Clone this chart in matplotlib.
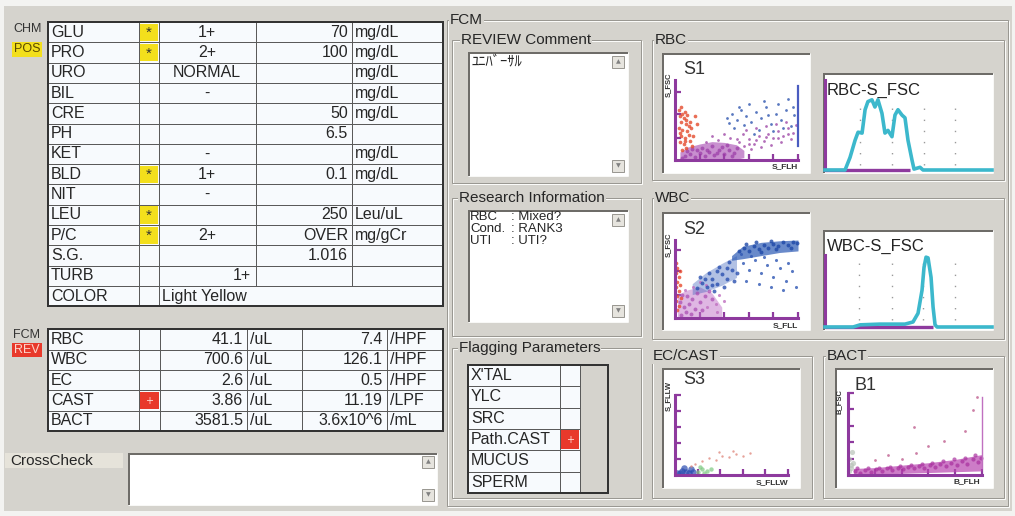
import matplotlib
matplotlib.use("Agg")
import matplotlib.pyplot as plt
from matplotlib.patches import Rectangle
from matplotlib import font_manager as fm

# ---------------- data ----------------
chem_names = ['GLU', 'PRO', 'URO', 'BIL', 'CRE', 'PH', 'KET', 'BLD', 'NIT', 'LEU', 'P/C', 'S.G.', 'TURB', 'COLOR']
chem_flags = [1, 1, 0, 0, 0, 0, 0, 1, 0, 1, 1, 0, 0, 0]
chem_qual = ['1+', '2+', 'NORMAL', '-', '', '', '-', '1+', '-', '', '2+', '', '1+', 'Light Yellow']
chem_quant = ['70', '100', '', '', '50', '6.5', '', '0.1', '', '250', 'OVER', '1.016', '', '']
chem_units = ['mg/dL', 'mg/dL', 'mg/dL', 'mg/dL', 'mg/dL', '', 'mg/dL', 'mg/dL', '', 'Leu/uL', 'mg/gCr', '', '', '']

fcm_names = ['RBC', 'WBC', 'EC', 'CAST', 'BACT']
fcm_flags = [0, 0, 0, 1, 0]
fcm_val = ['41.1', '700.6', '2.6', '3.86', '3581.5']
fcm_unit = ['/uL', '/uL', '/uL', '/uL', '/uL']
fcm_val2 = ['7.4', '126.1', '0.5', '11.19', '3.6x10^6']
fcm_unit2 = ['/HPF', '/HPF', '/HPF', '/LPF', '/mL']

flag_params = ["X'TAL", 'YLC', 'SRC', 'Path.CAST', 'MUCUS', 'SPERM']
flag_param_flags = [0, 0, 0, 1, 0, 0]

review_comment = 'ﾕﾆﾊﾞｰｻﾙ'
research_keys = ['RBC', 'Cond.', 'UTI']
research_vals = [': Mixed?', ': RANK3', ': UTI?']

# histogram curves (channel 0-100, relative count 0-100)
rbc_fsc_x = [0, 12, 15, 18, 19.8, 22.2, 24, 25.7, 28.1, 29.9, 31.7, 34.1, 35.9, 37.7, 40.1, 41.9,
             43.7, 46.1, 47.9, 49.7, 52.1, 53.3, 56.9, 58.7, 100]
rbc_fsc_y = [0, 0, 14, 33, 42, 41, 67, 76, 78, 70, 78, 63, 41, 44, 37, 61,
             67, 61, 58, 33, 11, 1, 3, 0, 0]
wbc_fsc_x = [0, 16.8, 21, 32.9, 47.9, 52.7, 55.7, 58.1, 59.3, 60.5, 61.7, 63.5, 64.7, 65.9, 67.1, 100]
wbc_fsc_y = [0, 0, 3, 4, 4, 7, 19, 51, 83, 97, 96, 69, 28, 3, 0, 0]

# scatter clouds (normalised channel units 0-1)
s1_red = [(0.03, 0.62), (0.05, 0.66), (0.08, 0.60), (0.04, 0.55), (0.07, 0.52), (0.10, 0.56), (0.05, 0.47),
          (0.09, 0.45), (0.12, 0.48), (0.03, 0.40), (0.06, 0.38), (0.10, 0.36), (0.13, 0.40), (0.05, 0.30),
          (0.08, 0.28), (0.11, 0.31), (0.04, 0.22), (0.07, 0.20), (0.12, 0.24), (0.09, 0.15), (0.14, 0.18),
          (0.06, 0.12), (0.15, 0.30), (0.18, 0.45), (0.16, 0.55), (0.06, 0.58), (0.09, 0.50), (0.04, 0.34),
          (0.11, 0.42), (0.08, 0.24)]
s1_blob_x = [0.04, 0.10, 0.20, 0.30, 0.40, 0.50, 0.56]
s1_blob_lo = [0.0, 0.0, 0.0, 0.0, 0.0, 0.01, 0.03]
s1_blob_hi = [0.10, 0.16, 0.20, 0.23, 0.22, 0.19, 0.12]
s1_purple_dense = [(0.08, 0.05), (0.12, 0.08), (0.16, 0.04), (0.20, 0.09), (0.24, 0.05), (0.28, 0.10), (0.32, 0.06),
                   (0.36, 0.12), (0.40, 0.07), (0.44, 0.13), (0.48, 0.09), (0.14, 0.14), (0.22, 0.15), (0.30, 0.17),
                   (0.10, 0.11), (0.18, 0.12), (0.26, 0.13), (0.34, 0.09), (0.38, 0.16), (0.42, 0.19), (0.50, 0.15),
                   (0.06, 0.03), (0.46, 0.05)]
s1_purple = [(0.52, 0.22), (0.56, 0.18), (0.60, 0.26), (0.64, 0.20), (0.68, 0.30), (0.72, 0.24), (0.76, 0.33),
             (0.80, 0.27), (0.84, 0.36), (0.88, 0.30), (0.92, 0.40), (0.96, 0.34), (0.55, 0.32), (0.62, 0.14),
             (0.70, 0.16), (0.78, 0.19), (0.86, 0.22), (0.94, 0.26), (0.45, 0.28), (0.35, 0.25), (0.40, 0.33),
             (0.66, 0.40), (0.74, 0.42), (0.82, 0.45), (0.58, 0.38), (0.90, 0.48), (0.98, 0.44), (0.25, 0.22),
             (0.30, 0.30), (0.50, 0.26), (0.60, 0.20), (0.66, 0.25), (0.74, 0.29), (0.84, 0.28), (0.92, 0.33)]
s1_blue = [(0.42, 0.52), (0.46, 0.58), (0.50, 0.50), (0.54, 0.62), (0.58, 0.55), (0.62, 0.48), (0.66, 0.60),
           (0.70, 0.52), (0.74, 0.66), (0.78, 0.45), (0.82, 0.58), (0.86, 0.50), (0.90, 0.62), (0.94, 0.42),
           (0.97, 0.56), (0.60, 0.70), (0.72, 0.74), (0.84, 0.70), (0.92, 0.76), (0.48, 0.40), (0.56, 0.44),
           (0.68, 0.38), (0.80, 0.36), (0.88, 0.40), (0.52, 0.66), (0.64, 0.32), (0.76, 0.56), (0.44, 0.46),
           (0.96, 0.66)]
s1_edge_y = [0.18, 0.92]

s2_red = [(0.01, 0.70), (0.02, 0.64), (0.01, 0.58), (0.03, 0.52), (0.02, 0.46), (0.01, 0.40), (0.03, 0.34),
          (0.02, 0.28), (0.01, 0.22), (0.03, 0.16), (0.04, 0.60), (0.04, 0.42), (0.02, 0.10), (0.05, 0.26)]
s2_blob_x = [0.02, 0.10, 0.20, 0.30, 0.38]
s2_blob_lo = [0.0, 0.0, 0.0, 0.0, 0.0]
s2_blob_hi = [0.30, 0.36, 0.40, 0.32, 0.14]
s2_purple_dense = [(0.05, 0.04), (0.09, 0.08), (0.13, 0.05), (0.07, 0.14), (0.11, 0.18), (0.16, 0.12), (0.20, 0.20),
                   (0.14, 0.25), (0.24, 0.28), (0.18, 0.32), (0.28, 0.35), (0.22, 0.10), (0.04, 0.20), (0.10, 0.28),
                   (0.30, 0.24), (0.06, 0.30)]
s2_pink = [(0.26, 0.14), (0.33, 0.18), (0.36, 0.30), (0.15, 0.40), (0.25, 0.42), (0.34, 0.08), (0.40, 0.22),
           (0.20, 0.46), (0.08, 0.36)]
s2_band_x = [0.14, 0.25, 0.38, 0.50]
s2_band_lo = [0.30, 0.34, 0.42, 0.52]
s2_band_hi = [0.44, 0.58, 0.70, 0.80]
s2_blue_low = [(0.18, 0.38), (0.22, 0.45), (0.26, 0.40), (0.30, 0.50), (0.34, 0.44), (0.38, 0.56), (0.42, 0.50),
               (0.46, 0.62), (0.50, 0.58), (0.28, 0.58), (0.36, 0.66), (0.44, 0.72), (0.20, 0.52), (0.40, 0.40),
               (0.48, 0.48), (0.32, 0.34), (0.24, 0.50), (0.34, 0.60), (0.42, 0.64), (0.30, 0.42)]
s2_blue_mid = [(0.55, 0.70), (0.60, 0.62), (0.65, 0.74), (0.70, 0.58), (0.75, 0.68), (0.80, 0.52), (0.85, 0.64),
               (0.90, 0.48), (0.95, 0.60), (0.58, 0.48), (0.68, 0.44), (0.78, 0.40), (0.88, 0.36), (0.62, 0.80),
               (0.72, 0.78), (0.82, 0.74), (0.92, 0.70), (0.54, 0.82), (0.98, 0.40)]
s2_top_x = [0.46, 0.55, 0.70, 0.85, 1.0]
s2_top_lo = [0.74, 0.76, 0.80, 0.84, 0.86]
s2_top_hi = [0.80, 0.92, 0.97, 0.99, 1.0]
s2_blue_top = [(0.52, 0.86), (0.56, 0.90), (0.60, 0.86), (0.64, 0.92), (0.68, 0.88), (0.72, 0.94), (0.76, 0.90),
               (0.80, 0.95), (0.84, 0.92), (0.88, 0.97), (0.92, 0.94), (0.96, 0.98), (0.99, 0.96), (0.58, 0.95),
               (0.70, 0.84), (0.82, 0.88), (0.94, 0.90), (0.66, 0.97), (0.78, 0.99)]

s3_blue = [(0.02, 0.03), (0.06, 0.05), (0.10, 0.04), (0.14, 0.07), (0.08, 0.09), (0.04, 0.02), (0.12, 0.02),
           (0.16, 0.04)]
s3_green = [(0.20, 0.04), (0.24, 0.07), (0.28, 0.05), (0.32, 0.08), (0.26, 0.02), (0.22, 0.10)]
s3_pink = [(0.18, 0.14), (0.24, 0.18), (0.30, 0.21), (0.36, 0.19), (0.42, 0.24), (0.48, 0.22), (0.54, 0.26),
           (0.60, 0.24), (0.66, 0.27), (0.39, 0.29), (0.51, 0.30), (0.14, 0.11)]

b1_band_x = [0.04, 0.2, 0.4, 0.6, 0.8, 1.0]
b1_band_lo = [0.0, 0.01, 0.02, 0.03, 0.04, 0.05]
b1_band_hi = [0.08, 0.09, 0.12, 0.15, 0.19, 0.25]
b1_mag = [(0.05, 0.05), (0.09, 0.03), (0.13, 0.06), (0.17, 0.04), (0.21, 0.07), (0.25, 0.05), (0.29, 0.08),
          (0.33, 0.06), (0.37, 0.09), (0.41, 0.07), (0.45, 0.10), (0.49, 0.08), (0.53, 0.11), (0.57, 0.09),
          (0.61, 0.12), (0.65, 0.10), (0.69, 0.14), (0.73, 0.11), (0.77, 0.15), (0.81, 0.12), (0.85, 0.17),
          (0.89, 0.14), (0.93, 0.19), (0.97, 0.16), (0.99, 0.21), (0.95, 0.24), (0.87, 0.21), (0.79, 0.19),
          (0.71, 0.17), (0.63, 0.15), (0.55, 0.13), (0.47, 0.12), (0.39, 0.11), (0.31, 0.10), (0.23, 0.09),
          (0.15, 0.08), (0.07, 0.09)]
b1_sparse = [(0.49, 0.59), (0.87, 0.54), (0.72, 0.41), (0.60, 0.35), (0.51, 0.27), (0.93, 0.79), (0.96, 0.95),
             (0.30, 0.25), (0.20, 0.18), (0.40, 0.20)]
b1_gray = [(0.01, 0.05), (0.02, 0.12), (0.01, 0.20), (0.03, 0.28), (0.02, 0.08), (0.04, 0.15)]
b1_edge_y = [0.08, 0.95]

# ---------------- setup ----------------
def pick_font(cands):
    for c in cands:
        try:
            fm.findfont(fm.FontProperties(family=c), fallback_to_default=False)
            return c
        except Exception:
            pass
    return 'DejaVu Sans'


UIF = pick_font(['Liberation Sans Narrow', 'DejaVu Sans Condensed', 'Liberation Sans', 'DejaVu Sans'])

W, H = 1015, 516
BG = '#d5d3cd'
PURPLE = '#8e3a9e'
CYAN = '#3cb8cc'
YEL = '#f3df1c'
RED = '#e8392b'
TXT = '#262626'
PX = 0.72

fig = plt.figure(figsize=(W / 100, H / 100), dpi=100, facecolor='#f3f3f1')
bg = fig.add_axes([0, 0, 1, 1])
bg.set_xlim(0, W)
bg.set_ylim(H, 0)
bg.axis('off')


def rect(x0, y0, x1, y1, fc='none', ec='none', lw=1, z=1):
    bg.add_patch(Rectangle((x0, y0), x1 - x0, y1 - y0, facecolor=fc, edgecolor=ec,
                           linewidth=lw * PX, zorder=z))


def hline(x0, x1, y, c, lw=1, z=2):
    bg.plot([x0, x1], [y, y], color=c, lw=lw * PX, zorder=z, solid_capstyle='butt')


def vline(x, y0, y1, c, lw=1, z=2):
    bg.plot([x, x], [y0, y1], color=c, lw=lw * PX, zorder=z, solid_capstyle='butt')


def txt(x, y, s, size=11.5, ha='left', va='center', color=TXT, family=None, z=6, **kw):
    bg.text(x, y, s, fontsize=size, ha=ha, va=va, color=color,
            family=family or UIF, zorder=z, **kw)


def group(x0, y0, x1, y1, title=None, tx=None):
    rect(x0 + 1, y0 + 1, x1 + 1, y1 + 1, ec='#fbfbf9', lw=1, z=1.4)
    rect(x0, y0, x1, y1, ec='#9a9892', lw=1, z=1.5)
    if title:
        txt(tx, y0, title, size=11, bbox=dict(fc=BG, ec='none', pad=0.6), z=3)


def sunken(x0, y0, x1, y1, fc='white'):
    rect(x0, y0, x1, y1, fc=fc, z=2)
    hline(x0, x1, y0 + 1, '#6e6c68', 2, z=3)
    vline(x0 + 1, y0, y1, '#6e6c68', 2, z=3)
    hline(x0, x1, y1, '#f8f8f6', 1, z=3)
    vline(x1, y0, y1, '#f8f8f6', 1, z=3)


def arrow_btn(x0, y0, up):
    rect(x0, y0, x0 + 12, y0 + 12, fc='#e6e4de', ec='#9a9892', lw=1, z=4)
    txt(x0 + 6, y0 + 6, '▲' if up else '▼', size=4.5, ha='center', color='#808080',
        family='DejaVu Sans', z=5)


# outer panel
rect(4, 6, 1012, 511, fc=BG, z=0.5)

# ---------------- left: CHM table ----------------
txt(13, 29, 'CHM', size=9, color='#333')
rect(12, 42, 42, 57, fc=YEL, z=2)
txt(14, 49.5, 'POS', size=9, color='#5a4800')

cx = [48, 139, 159, 256, 352, 443]
cy0, crh = 22, 20.3
n = len(chem_names)
rect(cx[0], cy0, cx[-1], cy0 + crh * n, fc='#f7fafd', z=2)
for i in range(1, n):
    hline(cx[0], cx[-1], cy0 + crh * i, '#5a5a5a', 1, z=3)
for j, xc in enumerate(cx[1:-1]):
    yb = cy0 + crh * n if j < 2 else cy0 + crh * (n - 1)
    vline(xc, cy0, yb, '#5a5a5a', 1, z=3)
rect(cx[0], cy0, cx[-1], cy0 + crh * n, ec='#333', lw=2, z=4)
for i in range(n):
    yc = cy0 + crh * (i + 0.5)
    txt(51, yc, chem_names[i])
    if chem_flags[i]:
        rect(cx[1] + 1, cy0 + crh * i + 1.5, cx[2] - 1, cy0 + crh * (i + 1) - 1.5, fc=YEL, z=3.5)
        txt(149, yc + 1, '*', size=11, ha='center', color='#333')
    q = chem_qual[i]
    if chem_names[i] == 'COLOR':
        txt(162, yc, q)
    elif chem_names[i] == 'TURB':
        txt(251, yc, q, ha='right')
    elif q:
        txt(207, yc, q, ha='center')
    if chem_quant[i]:
        txt(348, yc, chem_quant[i], ha='right')
    if chem_units[i]:
        txt(355, yc, chem_units[i])

# ---------------- left: FCM table ----------------
txt(13, 335, 'FCM', size=9, color='#333')
rect(12, 343, 42, 357, fc=RED, z=2)
txt(14, 350, 'REV', size=9, color='#ffd6cc')

fx = [48, 139, 160, 247, 302, 387, 443]
fy0, frh = 329.3, 20.35
m = len(fcm_names)
rect(fx[0], fy0, fx[-1], fy0 + frh * m, fc='#f7fafd', z=2)
for i in range(1, m):
    hline(fx[0], fx[-1], fy0 + frh * i, '#5a5a5a', 1, z=3)
for xc in fx[1:-1]:
    vline(xc, fy0, fy0 + frh * m, '#5a5a5a', 1, z=3)
rect(fx[0], fy0, fx[-1], fy0 + frh * m, ec='#333', lw=2, z=4)
for i in range(m):
    yc = fy0 + frh * (i + 0.5)
    txt(51, yc, fcm_names[i])
    if fcm_flags[i]:
        rect(fx[1] + 1, fy0 + frh * i + 1.5, fx[2] - 1, fy0 + frh * (i + 1) - 1.5, fc=RED, z=3.5)
        txt(149.5, yc, '+', size=7, ha='center', color='#ffe0d8', family='DejaVu Sans')
    txt(243, yc, fcm_val[i], ha='right')
    txt(250, yc, fcm_unit[i])
    txt(383, yc, fcm_val2[i], ha='right')
    txt(390, yc, fcm_unit2[i])

# CrossCheck
rect(5, 453, 123, 468, fc='#e6e3da', z=2)
txt(10, 461, 'CrossCheck', size=11)
sunken(128, 453, 437, 505)
arrow_btn(422, 456, True)
arrow_btn(422, 489, False)

# ---------------- middle column ----------------
group(447, 20, 1008, 506, 'FCM', 450)

group(452, 40, 641, 183, 'REVIEW Comment', 461)
sunken(468, 52, 628, 176)
arrow_btn(612, 56, True)
arrow_btn(612, 160, False)
txt(472, 62, review_comment, size=10.5, family=['Noto Sans CJK JP', 'DejaVu Sans'])

group(452, 198, 641, 336, 'Research Information', 459)
sunken(468, 210, 628, 322)
arrow_btn(612, 214, True)
arrow_btn(612, 305, False)
for i, (k, v) in enumerate(zip(research_keys, research_vals)):
    txt(470, 217 + 12 * i, k, size=9.5)
    txt(511, 217 + 12 * i, v, size=9.5)

group(452, 348, 641, 498, 'Flagging Parameters', 459)
px_ = [468, 560, 580, 608]
py0, prh = 365, 21.3
k = len(flag_params)
rect(px_[0], py0, px_[2], py0 + prh * k, fc='#f7fafd', z=2)
for i in range(1, k):
    hline(px_[0], px_[2], py0 + prh * i, '#5a5a5a', 1, z=3)
vline(px_[1], py0, py0 + prh * k, '#5a5a5a', 1, z=3)
vline(px_[2], py0, py0 + prh * k, '#5a5a5a', 1, z=3)
rect(px_[0], py0, px_[3], py0 + prh * k, ec='#333', lw=2, z=4)
for i in range(k):
    yc = py0 + prh * (i + 0.5)
    txt(471, yc, flag_params[i])
    if flag_param_flags[i]:
        rect(px_[1] + 1, py0 + prh * i + 1.5, px_[2] - 1, py0 + prh * (i + 1) - 1.5, fc=RED, z=3.5)
        txt(570, yc, '+', size=7, ha='center', color='#ffe0d8', family='DejaVu Sans')

# ---------------- right column ----------------
group(652, 40, 1004, 180, 'RBC', 655)
group(652, 198, 1004, 339, 'WBC', 655)
group(652, 356, 812, 498, 'EC/CAST', 653)
group(823, 356, 1004, 498, 'BACT', 827)

sunken(662, 53, 810, 173)
sunken(823, 73, 993, 173)
sunken(662, 212, 810, 330)
sunken(823, 230, 993, 330)
sunken(662, 368, 800, 488)
sunken(835, 368, 993, 488)


def scatter_axes(x0, y0, x1, y1, yt):
    ax = fig.add_axes([x0 / W, 1 - y1 / H, (x1 - x0) / W, (y1 - y0) / H])
    ax.set_xlim(0, 1)
    ax.set_ylim(0, 1)
    ax.patch.set_visible(False)
    for s in ['top', 'right']:
        ax.spines[s].set_visible(False)
    for s in ['left', 'bottom']:
        ax.spines[s].set_color(PURPLE)
        ax.spines[s].set_linewidth(2.2)
        ax.spines[s].set_zorder(5)
    ax.set_xticks([0.2, 0.4, 0.6, 0.8, 1.0])
    ax.set_yticks(yt)
    ax.tick_params(direction='in', length=4, width=1.6, color=PURPLE,
                   labelbottom=False, labelleft=False)
    return ax


def pts(ax, data, color, s=3, alpha=0.8):
    ax.scatter([p[0] for p in data], [p[1] for p in data], s=s, c=color, alpha=alpha,
               linewidths=0, clip_on=False, zorder=3)


def cloud(ax, xs, lo, hi, color, alpha):
    ax.fill_between(xs, lo, hi, color=color, alpha=alpha, lw=0, zorder=2)


def hist_axes(x0, y0, x1, y1, xs, ys, purple_end, dots_x, dot_lo, dot_hi):
    ax = fig.add_axes([x0 / W, 1 - y1 / H, (x1 - x0) / W, (y1 - y0) / H])
    ax.set_xlim(0, 100)
    ax.set_ylim(0, 100)
    ax.patch.set_visible(False)
    for s in ['top', 'right', 'bottom']:
        ax.spines[s].set_visible(False)
    ax.spines['left'].set_color(PURPLE)
    ax.spines['left'].set_linewidth(2.2)
    ax.set_xticks([])
    ax.set_yticks([])
    for dx in dots_x:
        ax.plot([dx, dx], [dot_lo, dot_hi], color='#9a9a9a', lw=1, ls=(0, (1, 7)), zorder=1)
    ax.plot([0, purple_end], [0, 0], color=PURPLE, lw=2.4, clip_on=False, zorder=2,
            solid_capstyle='butt')
    ax.plot(xs, ys, color=CYAN, lw=2.6, clip_on=False, zorder=3, solid_joinstyle='round')
    return ax


# S1
a1 = scatter_axes(675, 80, 798, 160, [0.28, 0.57, 0.85])
cloud(a1, s1_blob_x, s1_blob_lo, s1_blob_hi, '#a444b0', 0.6)
pts(a1, s1_purple_dense, '#9a3aa6', s=8, alpha=0.7)
pts(a1, s1_purple, '#a04aa8', s=4)
pts(a1, s1_blue, '#3056b0', s=4)
pts(a1, s1_red, '#e44a2c', s=7)
a1.plot([1, 1], s1_edge_y, color='#4a5cc0', lw=1.6, clip_on=False, zorder=3)
txt(683, 70, 'S1', size=13, color='#333')
txt(668, 85, 'S_FSC', size=5.5, ha='center', rotation=90, weight='bold', color='#333')
txt(798, 167, 'S_FLH', size=6, ha='right', weight='bold', color='#333')

# RBC histogram
hist_axes(825, 80, 992, 170, rbc_fsc_x, rbc_fsc_y, 51, [21, 40, 59, 78], 6, 78)
txt(827, 90, 'RBC-S_FSC', size=12, color='#222')

# S2
a2 = scatter_axes(675, 240, 798, 318, [0.3, 0.6, 0.87])
cloud(a2, s2_blob_x, s2_blob_lo, s2_blob_hi, '#c070c8', 0.5)
cloud(a2, s2_band_x, s2_band_lo, s2_band_hi, '#4064bc', 0.4)
cloud(a2, s2_top_x, s2_top_lo, s2_top_hi, '#2a58b4', 0.7)
pts(a2, s2_purple_dense, '#a848b0', s=8, alpha=0.7)
pts(a2, s2_pink, '#c070c0', s=5)
pts(a2, s2_blue_low, '#2a50b0', s=8, alpha=0.8)
pts(a2, s2_blue_mid, '#3058b4', s=5)
pts(a2, s2_blue_top, '#1e48a8', s=8, alpha=0.8)
pts(a2, s2_red, '#e84a2c', s=7)
txt(683, 229, 'S2', size=13, color='#333')
txt(668, 245, 'S_FSC', size=5.5, ha='center', rotation=90, weight='bold', color='#333')
txt(798, 326, 'S_FLL', size=6, ha='right', weight='bold', color='#333')

# WBC histogram
hist_axes(825, 255, 992, 327, wbc_fsc_x, wbc_fsc_y, 64.7, [20.4, 40.1, 58.7, 77.8], 10, 100)
txt(827, 246, 'WBC-S_FSC', size=12, color='#222')

# S3
a3 = scatter_axes(675, 395, 788, 475, [0.2, 0.4, 0.6, 0.8, 1.0])
pts(a3, s3_blue, '#2a4cb0', s=22, alpha=0.7)
pts(a3, s3_green, '#7cc880', s=10, alpha=0.7)
pts(a3, s3_pink, '#e08a80', s=3)
txt(683, 380, 'S3', size=13, color='#333')
txt(668, 396, 'S_FLLW', size=5.5, ha='center', rotation=90, weight='bold', color='#333')
txt(788, 483, 'S_FLLW', size=6, ha='right', weight='bold', color='#333')

# B1
a4 = scatter_axes(848, 393, 982, 475, [0.2, 0.4, 0.6, 0.8, 1.0])
cloud(a4, b1_band_x, b1_band_lo, b1_band_hi, '#b844b0', 0.7)
pts(a4, b1_mag, '#a8309e', s=9, alpha=0.7)
pts(a4, b1_sparse, '#c06090', s=4)
pts(a4, b1_gray, '#b8c4b8', s=14, alpha=0.7)
a4.plot([1, 1], b1_edge_y, color='#c070c0', lw=1.0, clip_on=False, zorder=3)
txt(855, 385, 'B1', size=13, color='#333')
txt(839, 402, 'B_FSC', size=5.5, ha='center', rotation=90, weight='bold', color='#333')
txt(980, 482, 'B_FLH', size=6, ha='right', weight='bold', color='#333')

fig.savefig('out.png', dpi=100, facecolor=fig.get_facecolor())
